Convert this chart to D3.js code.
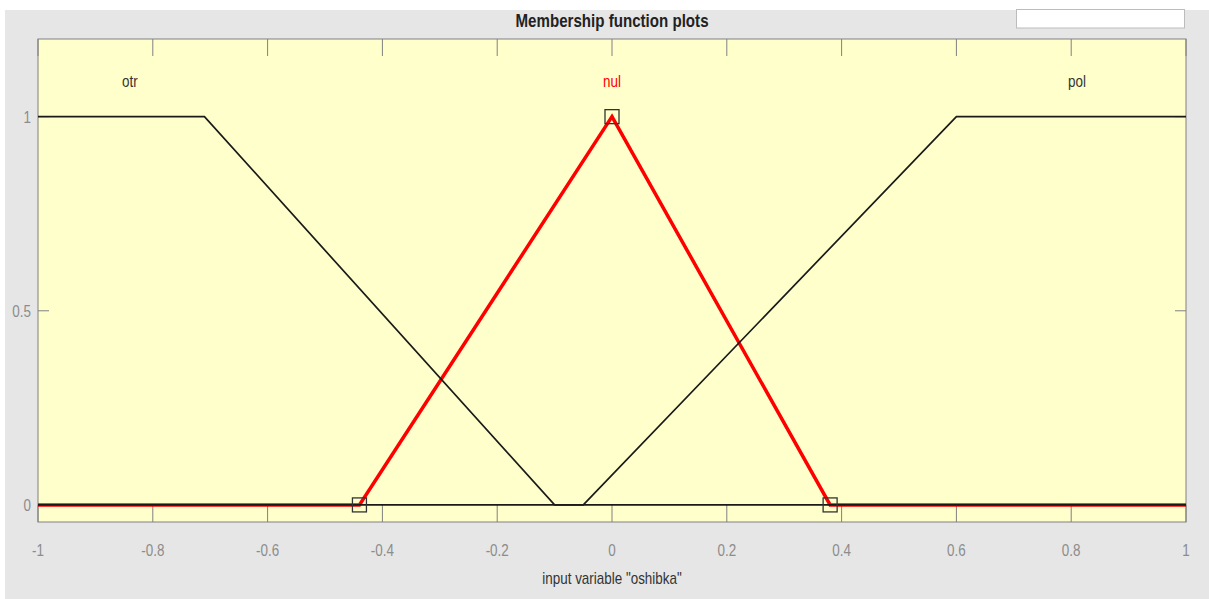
<!DOCTYPE html>
<html>
<head>
<meta charset="utf-8">
<script src="https://cdn.jsdelivr.net/npm/d3@7"></script>
<style>
  html, body { margin: 0; padding: 0; background: #fff; }
  svg text { font-family: "Liberation Sans", Arial, sans-serif; }
</style>
</head>
<body>
<div id="chart"></div>
<script>
// membership functions of input variable "oshibka"
var mfNames = ["otr", "nul", "pol"];
var mfXs = [
  [-1, -1, -0.71, -0.1],
  [-0.44, 0, 0.38],
  [-0.05, 0.6, 1, 1]
];
var mfYs = [
  [1, 1, 1, 0],
  [0, 1, 0],
  [0, 1, 1, 1]
];
var labelX = [-0.84, 0, 0.81];
var xTicks = [-1, -0.8, -0.6, -0.4, -0.2, 0, 0.2, 0.4, 0.6, 0.8, 1];
var yTicks = [0, 0.5, 1];
var selected = 1;

var width = 1209, height = 599;
var margin = { top: 39, right: 23, bottom: 77, left: 38 };

var svg = d3.select("#chart").append("svg")
    .attr("width", width).attr("height", height);

// narrow text, like the figure font
function label(px, py, str, size, color, anchor, weight) {
  return svg.append("text")
    .attr("transform", "translate(" + px + "," + py + ") scale(0.84,1)")
    .attr("text-anchor", anchor || "middle")
    .attr("font-size", size + "px")
    .attr("font-weight", weight || "normal")
    .attr("fill", color)
    .text(str);
}

// figure background
svg.append("rect").attr("x", 5).attr("y", 10)
    .attr("width", width - 5).attr("height", height - 10)
    .attr("fill", "#e6e6e6");
svg.append("rect").attr("x", 1016.5).attr("y", 9.5)
    .attr("width", 168).attr("height", 18.5)
    .attr("fill", "#fff").attr("stroke", "#bcbcbc");

var x = d3.scaleLinear().domain([-1, 1]).range([margin.left, width - margin.right]);
var y = d3.scaleLinear().domain([-0.044, 1.2]).range([height - margin.bottom, margin.top]);

var x0 = x.range()[0], x1 = x.range()[1], y0 = y.range()[0], y1 = y.range()[1];

svg.append("rect").attr("x", x0).attr("y", y1)
    .attr("width", x1 - x0).attr("height", y0 - y1)
    .attr("fill", "#ffffcc");

// ticks, inside on all four sides
var g = svg.append("g");
xTicks.forEach(function(t) {
  g.append("line").attr("x1", x(t)).attr("x2", x(t)).attr("y1", y0).attr("y2", y0 - 17)
    .attr("stroke", "#808080");
  g.append("line").attr("x1", x(t)).attr("x2", x(t)).attr("y1", y1).attr("y2", y1 + 17)
    .attr("stroke", "#808080");
  label(x(t), 556, String(t), 16, "#8c8c8c");
});
yTicks.forEach(function(t) {
  g.append("line").attr("x1", x0).attr("x2", x0 + 11).attr("y1", y(t)).attr("y2", y(t))
    .attr("stroke", "#808080");
  g.append("line").attr("x1", x1).attr("x2", x1 - 11).attr("y1", y(t)).attr("y2", y(t))
    .attr("stroke", "#808080");
  label(31, y(t) + 6, String(t), 16, "#8c8c8c", "end");
});

svg.append("rect").attr("x", x0).attr("y", y1)
    .attr("width", x1 - x0).attr("height", y0 - y1)
    .attr("fill", "none").attr("stroke", "#808080");

var line = d3.line().x(function(d) { return x(d[0]); }).y(function(d) { return y(d[1]); });

function mfPoints(i) {
  // extend with zero segments out to the domain ends
  var pts = mfXs[i].map(function(v, j) { return [v, mfYs[i][j]]; });
  if (pts[0][0] > -1) pts.unshift([-1, 0]);
  if (pts[pts.length - 1][0] < 1) pts.push([1, 0]);
  return pts;
}

// selected (red) first, others in black on top
svg.append("path").attr("d", line(mfPoints(selected)))
    .attr("fill", "none").attr("stroke", "#ff0000").attr("stroke-width", 3.5);

[0, 2].forEach(function(i) {
  svg.append("path").attr("d", line(mfPoints(i)))
    .attr("fill", "none").attr("stroke", "#1a1a1a").attr("stroke-width", 1.7);
});

// vertex markers of the selected function
mfXs[selected].forEach(function(v, j) {
  svg.append("rect").attr("x", x(v) - 7).attr("y", y(mfYs[selected][j]) - 7)
    .attr("width", 14).attr("height", 14)
    .attr("fill", "none").attr("stroke", "#333").attr("stroke-width", 1.3);
});

mfNames.forEach(function(n, i) {
  label(x(labelX[i]), 87, n, 16, i === selected ? "#ff0000" : "#333");
});

label(612, 27, "Membership function plots", 18, "#222", "middle", "bold");
label(612, 584, 'input variable "oshibka"', 16, "#333");
</script>
</body>
</html>
